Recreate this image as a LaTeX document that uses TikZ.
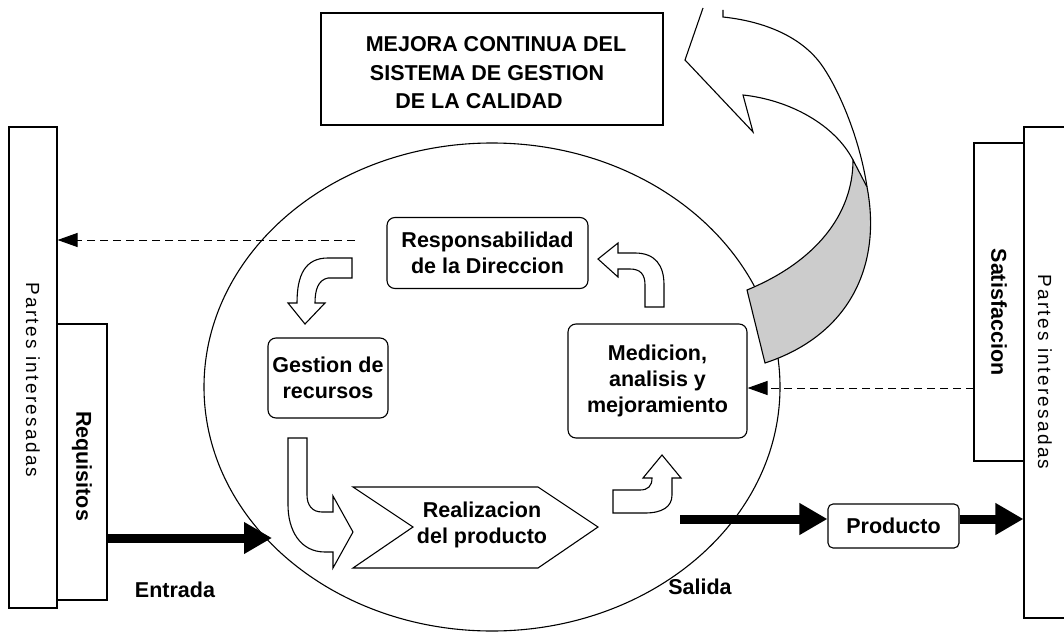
\documentclass[tikz,border=0pt]{standalone}
\usepackage{fontspec}
\setmainfont{Liberation Sans}
\newfontfamily\spacedfont[LetterSpace=12]{Liberation Sans}
\usetikzlibrary{arrows.meta}
\definecolor{bandgray}{RGB}{204,204,204}
\begin{document}
\begin{tikzpicture}[x=1pt,y=-1pt,
  thinline/.style={line width=1.1pt},
  rbox/.style={draw, line width=1.1pt, fill=white, rounded corners=8pt, inner sep=0pt},
  sqbox/.style={draw, line width=1.1pt, fill=white, inner sep=0pt},
  lbl/.style={font=\bfseries\fontsize{21.5}{26}\selectfont, align=center, inner sep=0pt},
  vlbl/.style={font=\bfseries\fontsize{21.5}{26}\selectfont, rotate=-90, inner sep=0pt},
  ptxt/.style={font=\spacedfont\fontsize{19}{22}\selectfont, rotate=-90, inner sep=0pt},
  fatarrow/.style={line width=9pt, -{Triangle[length=28pt,width=30pt]}},
  dasharrow/.style={line width=1pt, dash pattern=on 8pt off 5pt, -{Triangle[length=20pt,width=14pt]}},
  bendarrow/.style={draw, line width=1.1pt, fill=white, line join=miter}]
\useasboundingbox (0,0) rectangle (1064,631);
\clip (0,0) rectangle (1064,631);

% big ellipse
\draw[thinline] (492,387) ellipse [x radius=288, y radius=244];

% big curved arrow (top right)
\draw[thinline] (703,8) -- (685,60) -- (753,132) -- (743,95)
  .. controls (790,100) and (835,125) .. (853,160);
\draw[thinline] (723,10) -- (723,17)
  .. controls (770,22) and (805,40) .. (823,67)
  .. controls (840,92) and (860,140) .. (867,187);
\draw[thinline, fill=bandgray] (853,160)
  .. controls (853,215) and (815,262) .. (747,290)
  -- (765,363)
  .. controls (850,335) and (882,265) .. (867,187) -- cycle;

% top box
\node[sqbox, minimum width=342pt, minimum height=112pt] (mejora) at (492,69) {};
\node[lbl] (m1) at (496,44) {MEJORA CONTINUA DEL};
\node[lbl] (m2) at (487,73) {SISTEMA DE GESTION};
\node[lbl] (m3) at (479,101) {DE LA CALIDAD};

% side boxes
\node[sqbox, minimum width=48pt, minimum height=481pt] (partesL) at (33,367.5) {};
\node[ptxt] (ptL) at (33,380) {Partes interesadas};
\node[sqbox, minimum width=50pt, minimum height=276pt] (requis) at (82,462) {};
\node[vlbl] (rqT) at (82,466) {Requisitos};
\node[sqbox, minimum width=51pt, minimum height=491pt] (partesR) at (1049.5,372.5) {};
\node[ptxt] (ptR) at (1045,372) {Partes interesadas};
\node[sqbox, minimum width=50pt, minimum height=318pt] (satis) at (999,302) {};
\node[vlbl] (stT) at (999,312) {Satisfaccion};

% process boxes
\node[rbox, minimum width=201pt, minimum height=71pt, lbl] (resp) at (487.5,253) {Responsabilidad\\de la Direccion};
\node[rbox, minimum width=120pt, minimum height=80pt, lbl] (gest) at (328,378) {Gestion de\\recursos};
\node[rbox, minimum width=179pt, minimum height=114pt, lbl] (medic) at (657.5,381) {Medicion,\\analisis y\\mejoramiento};
\draw[thinline, fill=white] (353,487) -- (538,487) -- (598,527) -- (538,568) -- (353,568) -- (413,527) -- cycle;
\node[lbl] (realiz) at (482,525) {Realizacion\\del producto};
\node[rbox, rounded corners=5pt, minimum width=131pt, minimum height=44pt, lbl] (produ) at (893.5,526) {Producto};

% small bent arrows
\path[bendarrow] (352,258) -- (352,278) -- (328,278)
  .. controls (318,280) and (315,290) .. (315,303) -- (325,303) -- (305,324)
  -- (288,303) -- (297,303) .. controls (297,275) and (305,258) .. (328,258) -- cycle;
\path[bendarrow] (645,307) -- (645,285) .. controls (645,274) and (640,269) .. (630,269)
  -- (618,269) -- (618,277) -- (598,259) -- (618,243) -- (618,253) -- (635,253)
  .. controls (655,253) and (664,265) .. (664,285) -- (664,307) -- cycle;
\path[bendarrow] (613,490) -- (640,490) .. controls (648,490) and (652,486) .. (652,478)
  -- (643,478) -- (662,455) -- (681,478) -- (672,478) -- (672,495)
  .. controls (672,507) and (662,513) .. (645,513) -- (613,513) -- cycle;
\path[bendarrow] (288,438) -- (307,438) -- (307,495) .. controls (307,505) and (312,512) .. (322,512)
  -- (333,512) -- (333,496) -- (353,532) -- (333,568) -- (333,552) -- (325,552)
  .. controls (300,552) and (288,530) .. (288,505) -- cycle;

% dashed feedback arrows
\coordinate (dL) at (355,240);
\draw[dasharrow] (dL) -- (dL -| partesL.east);
\coordinate (dR) at (974,388);
\draw[dasharrow] (dR) -- (dR -| medic.east);

% thick flow arrows
\coordinate (entEnd) at (272,538);
\draw[fatarrow] (requis.east |- entEnd) -- (entEnd);
\coordinate (sal) at (680,519);
\draw[fatarrow] (sal) -- (sal -| produ.west);
\draw[fatarrow] (produ.east |- sal) -- (sal -| partesR.west);

% labels
\node[lbl] (entr) at (175,590) {Entrada};
\node[lbl] (sali) at (700,587) {Salida};
\end{tikzpicture}
\end{document}
